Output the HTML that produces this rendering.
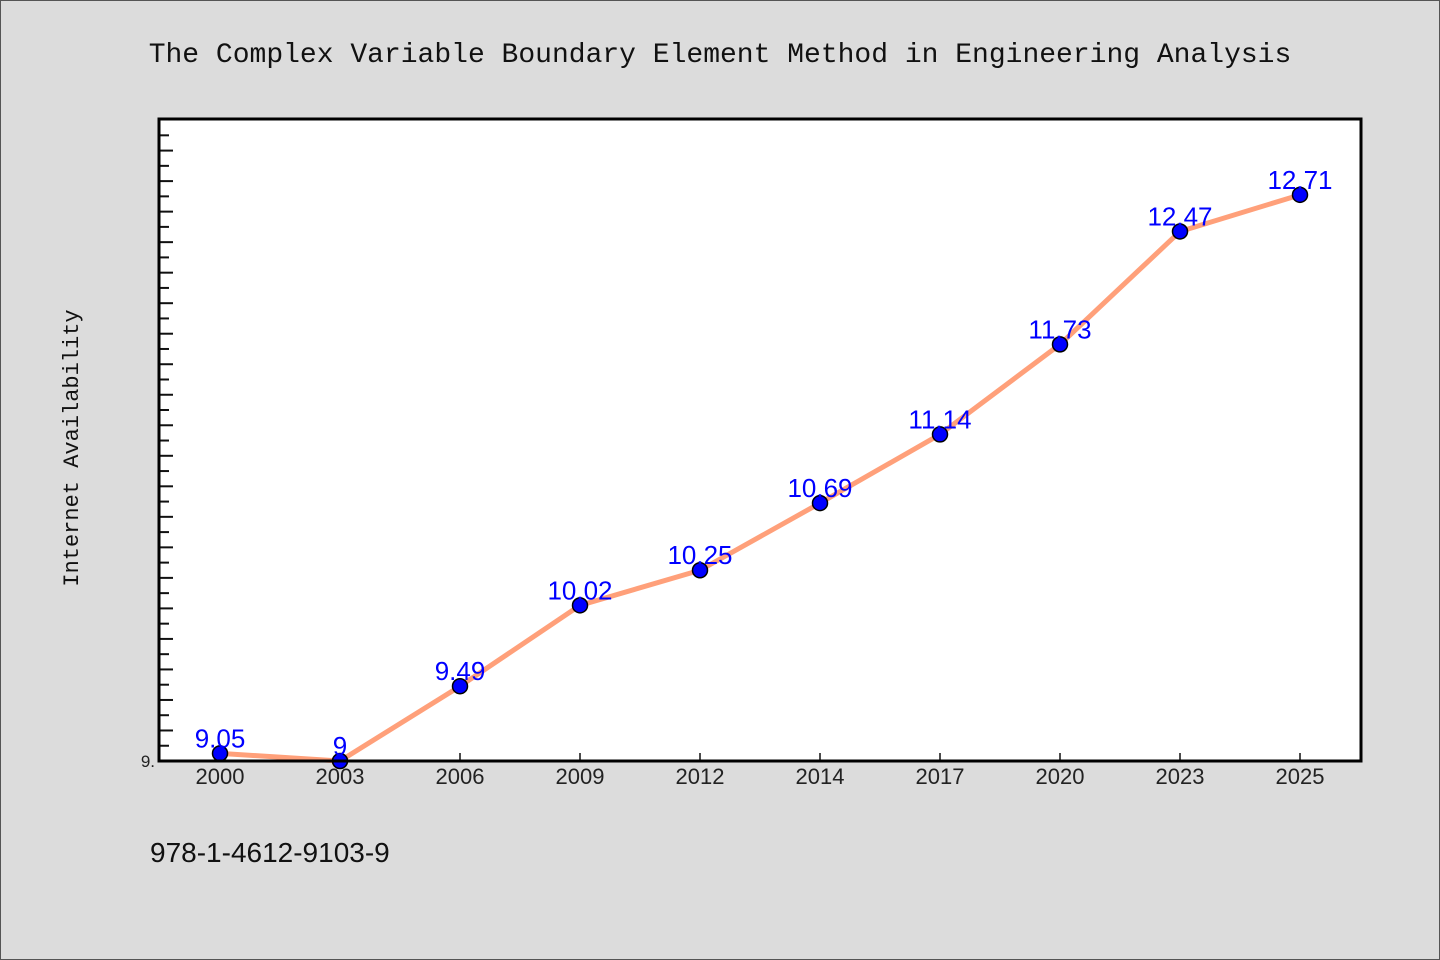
<!DOCTYPE html>
<html><head><meta charset="utf-8"><style>
body{margin:0;background:#dcdcdc;}
svg{display:block;font-family:"Liberation Sans","WenQuanYi Zen Hei",sans-serif;}
</style></head><body>
<svg id="chart" width="1440" height="960">
<rect x="0.5" y="0.5" width="1439" height="959" fill="#dcdcdc" stroke="#555"/>
<text x="720" y="62" text-anchor="middle" font-family="Liberation Mono, monospace" font-size="28" fill="#111">The Complex Variable Boundary Element Method in Engineering Analysis</text>
<rect x="159" y="119" width="1202" height="642" fill="#fff"/>
<g id="ticks"></g>
<g id="series"></g>
<rect x="159" y="119" width="1202" height="642" fill="none" stroke="#000" stroke-width="3"/>
<text x="78" y="448" transform="rotate(-90 78 448)" text-anchor="middle" font-family="Liberation Mono, monospace" font-size="22" fill="#111">Internet Availability</text>
<text x="155" y="767" text-anchor="end" font-size="17" fill="#222">9.</text>
<text x="150" y="862" font-size="28" fill="#111">978-1-4612-9103-9</text>
</svg>
<script>
const categories=["2000","2003","2006","2009","2012","2014","2017","2020","2023","2025"];
const values=[9.05,9,9.49,10.02,10.25,10.69,11.14,11.73,12.47,12.71];
const labels=["9.05","9","9.49","10.02","10.25","10.69","11.14","11.73","12.47","12.71"];
const yMin=9, yMax=13.207;
const NS="http://www.w3.org/2000/svg";
const L=159,T=119,R=1361,B=761;
function x(i){return 220+i*120;}
function y(v){return B-(v-yMin)/(yMax-yMin)*(B-T);}
function mk(tag,attrs,parent){const e=document.createElementNS(NS,tag);for(const k in attrs)e.setAttribute(k,attrs[k]);parent.appendChild(e);return e;}
const tk=document.getElementById('ticks'), se=document.getElementById('series');
for(let k=1;;k++){const v=yMin+k*0.1;const yy=y(v);if(yy<T+2)break;
 const t=mk('line',{x1:L,x2:L+(k%2==0?14:10),y1:yy,y2:yy,stroke:'#111','stroke-width':2},tk);
 
 }
categories.forEach((c,i)=>{
 const t=mk('line',{x1:x(i),x2:x(i),y1:B,y2:B-8,stroke:'#111','stroke-width':1.5},tk);
 
 
 const tx=mk('text',{x:x(i),y:B+23,'text-anchor':'middle','font-size':22,fill:'#222'},tk);
 tx.textContent=c;
 
 
});
const pl=mk('polyline',{points:values.map((v,i)=>x(i)+','+y(v)).join(' '),fill:'none',stroke:'#ffa07a','stroke-width':5,'stroke-linejoin':'round'},se);


values.forEach((v,i)=>{
 const c=mk('circle',{cx:x(i),cy:y(v),r:7.5,fill:'#0000ff',stroke:'#000','stroke-width':1.5},se);
 
 
 const t=mk('text',{x:x(i),y:y(v)-6,'text-anchor':'middle','font-size':26,fill:'#0000ff'},se);
 t.textContent=labels[i];
 
 
});
</script>
</body></html>
